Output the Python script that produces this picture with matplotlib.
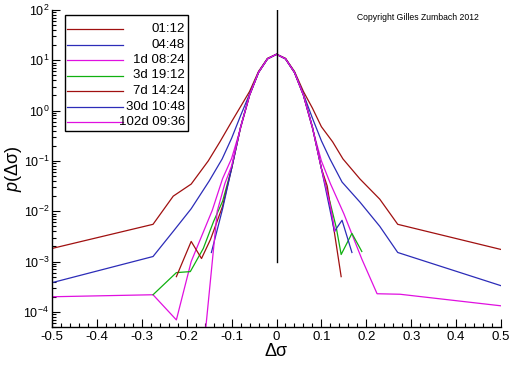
import numpy as np
import matplotlib
matplotlib.use("Agg")
import matplotlib.pyplot as plt
from matplotlib.patches import Rectangle
from matplotlib.ticker import FixedLocator, LogFormatterMathtext, NullFormatter

plt.rcParams['font.family'] = ['Liberation Sans', 'DejaVu Sans']
plt.rcParams['mathtext.fontset'] = 'custom'
plt.rcParams['mathtext.rm'] = 'Liberation Sans'
plt.rcParams['mathtext.it'] = 'Liberation Sans:italic'

labels = ["01:12", "04:48", "1d 08:24", "3d 19:12", "7d 14:24", "30d 10:48", "102d 09:36"]
colors = ["#a01010", "#2c2cb8", "#e010e0", "#10b010", "#a01010", "#2c2cb8", "#e010e0"]

# log10 of p(Δσ)
x_0112 = [-0.5, -0.275, -0.23, -0.19, -0.152, -0.126, -0.1, -0.08, -0.06, -0.04, -0.02, 0.0,
          0.02, 0.04, 0.06, 0.08, 0.1, 0.125, 0.148, 0.186, 0.23, 0.27, 0.5]
l_0112 = [-2.74, -2.26, -1.7, -1.46, -1.0, -0.62, -0.22, 0.08, 0.38, 0.78, 1.04, 1.12,
          1.04, 0.78, 0.38, 0.05, -0.32, -0.62, -0.96, -1.36, -1.76, -2.26, -2.76]

x_0448 = [-0.5, -0.275, -0.23, -0.19, -0.15, -0.121, -0.1, -0.08, -0.06, -0.04, -0.02, 0.0,
          0.02, 0.04, 0.06, 0.08, 0.1, 0.119, 0.146, 0.186, 0.23, 0.27, 0.5]
l_0448 = [-3.42, -2.9, -2.4, -1.95, -1.4, -0.96, -0.55, -0.1, 0.33, 0.76, 1.03, 1.12,
          1.03, 0.76, 0.33, -0.15, -0.6, -0.96, -1.42, -1.82, -2.3, -2.82, -3.48]

x_1d = [-0.5, -0.275, -0.223, -0.19, -0.143, -0.12, -0.1, -0.08, -0.06, -0.04, -0.02, 0.0,
        0.02, 0.04, 0.06, 0.08, 0.1, 0.12, 0.15, 0.19, 0.224, 0.275, 0.5]
l_1d = [-3.7, -3.66, -4.16, -3.0, -1.98, -1.35, -0.95, -0.35, 0.3, 0.76, 1.03, 1.12,
        1.03, 0.76, 0.3, -0.35, -1.0, -1.45, -2.05, -2.95, -3.64, -3.65, -3.88]

x_3d = [-0.275, -0.223, -0.192, -0.163, -0.14, -0.12, -0.1, -0.08, -0.06, -0.04, -0.02, 0.0,
        0.02, 0.04, 0.06, 0.08, 0.1, 0.12, 0.133, 0.144, 0.168, 0.19]
l_3d = [-3.66, -3.22, -3.2, -2.74, -2.2, -1.8, -1.15, -0.33, 0.31, 0.76, 1.03, 1.12,
        1.03, 0.76, 0.31, -0.33, -1.15, -1.85, -2.32, -2.86, -2.44, -2.8]

x_7d = [-0.223, -0.19, -0.167, -0.147, -0.12, -0.1, -0.08, -0.06, -0.04, -0.02, 0.0,
        0.02, 0.04, 0.06, 0.08, 0.1, 0.113, 0.126, 0.144]
l_7d = [-3.3, -2.6, -2.94, -2.56, -1.9, -1.15, -0.33, 0.31, 0.76, 1.03, 1.12,
        1.03, 0.76, 0.31, -0.33, -1.15, -1.5, -2.25, -3.3]

x_30d = [-0.145, -0.12, -0.1, -0.08, -0.06, -0.04, -0.02, 0.0,
         0.02, 0.04, 0.06, 0.08, 0.1, 0.129, 0.146, 0.168]
l_30d = [-2.82, -1.95, -1.15, -0.33, 0.31, 0.76, 1.03, 1.12,
         1.03, 0.76, 0.31, -0.33, -1.15, -2.4, -2.18, -2.82]

x_102d = [-0.165, -0.132, -0.115, -0.1, -0.08, -0.06, -0.04, -0.02, 0.0,
          0.02, 0.04, 0.06, 0.08, 0.1, 0.12, 0.13]
l_102d = [-5.0, -2.0, -1.45, -1.1, -0.33, 0.31, 0.76, 1.03, 1.12,
          1.03, 0.76, 0.31, -0.33, -1.15, -1.9, -2.4]

series_x = [x_0112, x_0448, x_1d, x_3d, x_7d, x_30d, x_102d]
series_l = [l_0112, l_0448, l_1d, l_3d, l_7d, l_30d, l_102d]

xticks = [-0.5, -0.4, -0.3, -0.2, -0.1, 0.0, 0.1, 0.2, 0.3, 0.4, 0.5]
xticklabels = ["-0.5", "-0.4", "-0.3", "-0.2", "-0.1", "0", "0.1", "0.2", "0.3", "0.4", "0.5"]
yticks = [1e-4, 1e-3, 1e-2, 1e-1, 1e0, 1e1, 1e2]

fig = plt.figure(figsize=(5.12, 3.66), dpi=100)
ax = fig.add_axes([52/512, 1 - 327/366, 449/512, 317/366])

for xs, ls, c in zip(series_x, series_l, colors):
    ax.plot(xs, 10 ** np.array(ls), color=c, lw=0.9)

ax.plot([0, 0], [1e-3, 1e2], color='black', lw=1.0)

ax.set_yscale('log')
ax.set_xlim(-0.5, 0.5)
ax.set_ylim(5e-5, 1e2)
ax.xaxis.set_major_locator(FixedLocator(xticks))
ax.set_xticklabels(xticklabels)
ax.xaxis.set_minor_locator(FixedLocator(np.arange(-0.5, 0.5001, 0.02)))
ax.yaxis.set_major_locator(FixedLocator(yticks))
ax.yaxis.set_major_formatter(LogFormatterMathtext())
yminor = [m * d for d in [1e-5, 1e-4, 1e-3, 1e-2, 1e-1, 1e0, 1e1] for m in range(2, 10)]
yminor = [v for v in yminor if 5e-5 <= v <= 1e2]
ax.yaxis.set_minor_locator(FixedLocator(yminor))
ax.yaxis.set_minor_formatter(NullFormatter())
ax.tick_params(which='major', direction='in', length=6, width=0.8, labelsize=9.5, pad=3)
ax.tick_params(axis='y', which='major', labelsize=9, pad=2)
ax.tick_params(which='minor', direction='in', length=3, width=0.8)
ax.spines['top'].set_visible(False)
ax.spines['right'].set_visible(False)
ax.spines['left'].set_linewidth(1.0)
ax.spines['bottom'].set_linewidth(1.0)

ax.set_xlabel("Δσ", fontsize=13)
ax.xaxis.set_label_coords(0.5, (327 - 351) / 317)
ax.xaxis.label.set_va('center')
ax.set_ylabel(r"$p$(Δσ)", fontsize=13)
ax.yaxis.set_label_coords((14 - 52) / 449, 0.5)
ax.yaxis.label.set_va('center')

# legend drawn manually (right-aligned labels)
lx0, lx1 = (65 - 52) / 449, (188 - 52) / 449
ly1, ly0 = (327 - 15) / 317, (327 - 131) / 317
ax.add_patch(Rectangle((lx0, ly0), lx1 - lx0, ly1 - ly0, transform=ax.transAxes,
                       facecolor='white', edgecolor='black', lw=1.0, zorder=5))
for i, (lab, c) in enumerate(zip(labels, colors)):
    yy = (327 - (29 + i * 15.5)) / 317
    ax.plot([(67 - 52) / 449, (123 - 52) / 449], [yy, yy], transform=ax.transAxes,
            color=c, lw=0.9, zorder=6)
    ax.text((185 - 52) / 449, yy, lab, transform=ax.transAxes, ha='right', va='center',
            fontsize=9.5, zorder=6)

fig.text(418 / 512, 1 - 17 / 366, "Copyright Gilles Zumbach 2012", fontsize=6.2,
         ha='center', va='center')

fig.savefig("out.png", dpi=100)
